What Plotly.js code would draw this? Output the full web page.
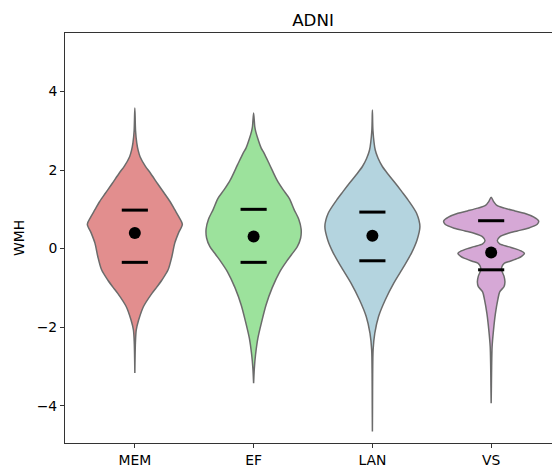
<!DOCTYPE html>
<html><head><meta charset="utf-8">
<script src="https://cdn.plot.ly/plotly-3.0.1.min.js"></script>
<style>html,body{margin:0;padding:0;overflow:hidden;background:#fff}#chart{width:562px;height:470px}</style>
</head><body><div id="chart"></div><script>
const categories = ['MEM', 'EF', 'LAN', 'VS'];

// density outlines (y value, relative density 0..1), top to bottom
const memY = [3.58, 3.0, 2.69, 2.50, 2.34, 2.10, 1.92, 1.65, 1.41, 1.20, 0.99, 0.80, 0.62, 0.40, 0.14, -0.20, -0.54, -0.80, -1.00, -1.14, -1.48, -1.82, -2.07, -2.40, -3.17];
const memD = [0.0, 0.015, 0.04, 0.07, 0.11, 0.22, 0.33, 0.48, 0.62, 0.74, 0.84, 0.93, 1.0, 0.92, 0.84, 0.78, 0.70, 0.57, 0.45, 0.36, 0.18, 0.08, 0.03, 0.012, 0.0];

const efY = [3.45, 3.10, 2.98, 2.76, 2.56, 2.43, 2.13, 1.75, 1.50, 1.28, 1.00, 0.75, 0.50, 0.27, 0.05, -0.15, -0.33, -0.59, -1.00, -1.44, -1.86, -2.28, -2.71, -3.05, -3.43];
const efD = [0.0, 0.025, 0.045, 0.10, 0.16, 0.22, 0.34, 0.49, 0.62, 0.75, 0.85, 0.95, 1.0, 0.99, 0.92, 0.80, 0.69, 0.55, 0.39, 0.26, 0.17, 0.09, 0.04, 0.015, 0.0];

const lanY = [3.53, 3.0, 2.51, 2.30, 2.09, 1.88, 1.67, 1.45, 1.24, 0.90, 0.56, 0.22, -0.12, -0.46, -0.88, -1.31, -1.73, -2.16, -2.58, -3.20, -4.00, -4.66];
const lanD = [0.0, 0.012, 0.06, 0.12, 0.21, 0.34, 0.48, 0.62, 0.75, 0.93, 1.0, 0.94, 0.82, 0.66, 0.45, 0.27, 0.13, 0.05, 0.015, 0.006, 0.003, 0.0];

const vsY = [1.31, 1.20, 1.10, 1.03, 0.96, 0.90, 0.80, 0.70, 0.62, 0.52, 0.45, 0.39, 0.30, 0.20, 0.12, 0.05, 0.0, -0.06, -0.12, -0.20, -0.25, -0.32, -0.37, -0.45, -0.55, -0.70, -0.85, -0.97, -1.10, -1.30, -1.65, -2.07, -2.50, -3.00, -3.50, -3.94];
const vsD = [0.0, 0.05, 0.12, 0.28, 0.50, 0.70, 0.90, 1.0, 0.97, 0.78, 0.55, 0.36, 0.18, 0.13, 0.18, 0.36, 0.50, 0.63, 0.70, 0.64, 0.56, 0.40, 0.28, 0.23, 0.22, 0.27, 0.29, 0.27, 0.18, 0.14, 0.09, 0.05, 0.02, 0.01, 0.005, 0.0];

const means = [0.40, 0.31, 0.33, -0.10];
const q1 = [-0.35, -0.35, -0.31, -0.54];
const q3 = [0.98, 1.00, 0.93, 0.71];

const fills = ['#e28e8e', '#9ce29c', '#b4d4df', '#d6a8d6'];
const outlines = [[memY, memD], [efY, efD], [lanY, lanD], [vsY, vsD]];
const halfWidth = 0.4;

const traces = [];
outlines.forEach(([ys, ds], i) => {
  const xs = [], yy = [];
  for (let k = 0; k < ys.length; k++) { xs.push(i + halfWidth * ds[k]); yy.push(ys[k]); }
  for (let k = ys.length - 1; k >= 0; k--) { xs.push(i - halfWidth * ds[k]); yy.push(ys[k]); }
  traces.push({
    type: 'scatter', mode: 'lines', x: xs, y: yy, fill: 'toself', fillcolor: fills[i],
    line: {color: '#6b6b6b', width: 1.5, shape: 'spline', smoothing: 0.8},
    hoverinfo: 'skip', showlegend: false
  });
});

const qx = [], qy = [];
categories.forEach((c, i) => {
  qx.push(i - 0.11, i + 0.11, null, i - 0.11, i + 0.11, null);
  qy.push(q1[i], q1[i], null, q3[i], q3[i], null);
});
traces.push({type: 'scatter', mode: 'lines', x: qx, y: qy, line: {color: '#000', width: 3}, showlegend: false, hoverinfo: 'skip'});
traces.push({type: 'scatter', mode: 'markers', x: categories.map((c, i) => i), y: means,
  marker: {color: '#000', size: 12}, showlegend: false});

const font = {family: 'DejaVu Sans', size: 13.9, color: '#000'};
const layout = {
  width: 562, height: 470,
  margin: {l: 65, r: 1, t: 33, b: 27},
  paper_bgcolor: '#fff', plot_bgcolor: '#fff',
  font: font,
  title: {text: 'ADNI', font: {family: 'DejaVu Sans', size: 16.7, color: '#000'}, x: 0.5, xref: 'paper', y: 1, yref: 'paper', yanchor: 'bottom', pad: {b: 7}},
  xaxis: {range: [-0.588, 3.588], tickvals: [0, 1, 2, 3], ticktext: categories, showgrid: false, zeroline: false,
    showline: true, mirror: true, linecolor: '#333', linewidth: 1, ticks: 'outside', ticklen: 4, tickcolor: '#333', tickfont: font},
  yaxis: {range: [-4.95, 5.49], tick0: 0, dtick: 2, showgrid: false, zeroline: false,
    showline: true, mirror: true, linecolor: '#333', linewidth: 1, ticks: 'outside', ticklen: 4, tickcolor: '#333', tickfont: font,
    title: {text: 'WMH', font: font, standoff: 8}},
};
Plotly.newPlot('chart', traces, layout, {displayModeBar: false, staticPlot: true});
</script></body></html>
